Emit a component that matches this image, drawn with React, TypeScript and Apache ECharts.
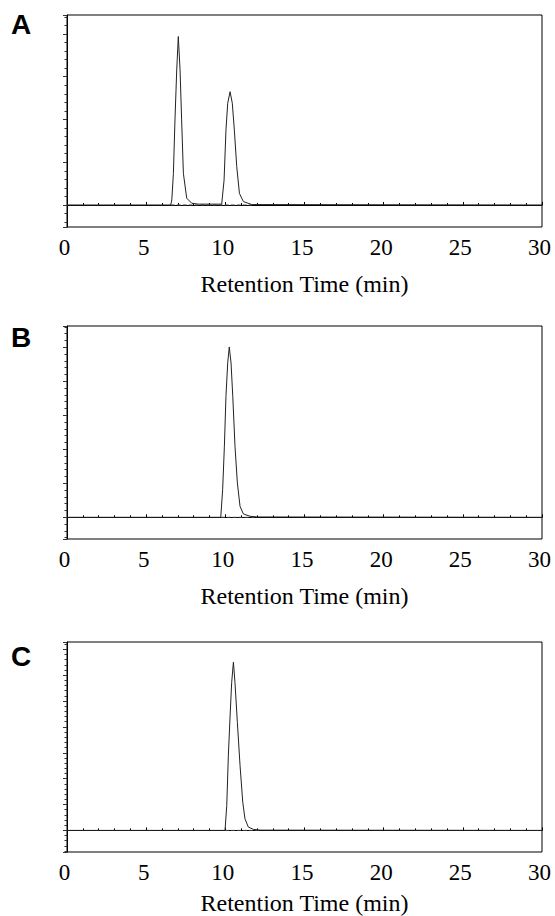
import React, { useEffect, useRef } from "react";
import * as echarts from "echarts";

// Retention time (min) and detector signal (in units of the major y tick)
const timesA = [0, 6.55, 6.62, 6.72, 6.82, 6.93, 7.03, 7.14, 7.24, 7.35, 7.56, 7.88, 8.3, 9.0, 9.77, 9.92, 10.04, 10.15, 10.3, 10.44, 10.57, 10.72, 10.89, 11.14, 11.67, 30];
const signalA = [0, 0, 0.12, 0.74, 1.99, 3.16, 3.94, 3.16, 1.99, 0.74, 0.16, 0.04, 0.02, 0.02, 0.02, 0.58, 1.75, 2.38, 2.65, 2.38, 1.75, 0.9, 0.27, 0.08, 0.01, 0];
const timesB = [0, 9.71, 9.83, 9.94, 10.04, 10.15, 10.25, 10.36, 10.47, 10.61, 10.76, 10.93, 11.14, 11.56, 12.02, 30];
const signalB = [0, 0, 0.81, 2.09, 3.56, 4.54, 5.01, 4.54, 3.56, 2.09, 1.01, 0.32, 0.1, 0.03, 0.01, 0];
const timesC = [0, 9.98, 10.09, 10.19, 10.3, 10.4, 10.51, 10.61, 10.76, 10.93, 11.1, 11.24, 11.45, 11.77, 12.19, 30];
const signalC = [0, 0, 0.96, 2.88, 4.42, 5.71, 6.5, 5.71, 4.17, 2.5, 1.09, 0.45, 0.13, 0.04, 0.01, 0];

// integration baselines (dashed) start/end times
const baseA = [6.55, 11.7];
const baseB = [9.71, 12.02];
const baseC = [9.98, 12.19];

const panelLabels = ["A", "B", "C"];
const xTickValues = [0, 5, 10, 15, 20, 25, 30];
const xTitle = "Retention Time (min)";
const yRanges = [
  [-0.515, 4.444],
  [-0.638, 5.626],
  [-0.835, 7.28],
];

const grids = [
  { top: 15, height: 212 },
  { top: 326, height: 213 },
  { top: 642, height: 211 },
];
const nameGaps = [45, 45, 39];
const labelY = [24.5, 337.5, 656];

const serif = "Liberation Serif";
const sans = "Liberation Sans";

export default function App() {
  const ref = useRef<HTMLDivElement>(null);
  useEffect(() => {
    if (!ref.current) return;
    const chart = echarts.init(ref.current, undefined, { renderer: "svg" });
    const times = [timesA, timesB, timesC];
    const signals = [signalA, signalB, signalC];
    const bases = [baseA, baseB, baseC];

    const series: any[] = [];
    times.forEach((t, i) => {
      series.push({
        type: "line",
        xAxisIndex: i,
        yAxisIndex: i,
        data: bases[i].map((b) => [b, 0]),
        symbol: "none",
        lineStyle: { color: "#444", width: 1, type: "dashed", dashOffset: 0 },
        z: 2,
      });
      series.push({
        type: "line",
        xAxisIndex: i,
        yAxisIndex: i,
        data: t.map((v, k) => [v, signals[i][k]]),
        symbol: "none",
        lineStyle: { color: "#222", width: 1 },
        z: 3,
      });
    });

    chart.setOption({
      animation: false,
      backgroundColor: "#fff",
      grid: grids.map((g) => ({
        left: 67,
        right: 13,
        top: g.top,
        height: g.height,
        show: true,
        borderColor: "#000",
        borderWidth: 1,
        backgroundColor: "transparent",
      })),
      xAxis: grids.map((_, i) => ({
        type: "value",
        gridIndex: i,
        min: 0,
        max: 30,
        interval: 5,
        name: xTitle,
        nameLocation: "middle",
        nameGap: nameGaps[i],
        nameTextStyle: { fontFamily: serif, fontSize: 24, color: "#000" },
        axisLine: { show: true, lineStyle: { color: "#000", width: 1 } },
        axisTick: { show: true, inside: true, length: 3, lineStyle: { color: "#000" } },
        minorTick: { show: true, splitNumber: 5, length: 2, lineStyle: { color: "#000" } },
        axisLabel: {
          show: true,
          margin: 9,
          fontFamily: serif,
          fontSize: 23,
          color: "#000",
          padding: [0, 5, 0, 0],
          formatter: (v: number) => (xTickValues.includes(v) ? String(v) : ""),
        },
        splitLine: { show: false },
      })),
      yAxis: grids.map((_, i) => ({
        type: "value",
        gridIndex: i,
        min: yRanges[i][0],
        max: yRanges[i][1],
        minInterval: 1,
        maxInterval: 1,
        axisLine: { show: true, lineStyle: { color: "#000", width: 1 } },
        axisTick: { show: true, inside: false, length: 4, lineStyle: { color: "#333" } },
        minorTick: { show: true, splitNumber: 5, length: 2.5, lineStyle: { color: "#333" } },
        axisLabel: { show: false },
        splitLine: { show: false },
      })),
      graphic: panelLabels.map((l, i) => ({
        type: "text",
        left: 11,
        top: labelY[i] - 14,
        style: {
          text: l,
          fontFamily: sans,
          fontWeight: "bold",
          fontSize: 28,
          fill: "#000",
        },
      })),
      series,
    });
    return () => chart.dispose();
  }, []);
  return (
    <div
      ref={ref}
      style={{ position: "absolute", left: 0, top: 0, width: 555, height: 916, background: "#fff" }}
    />
  );
}
